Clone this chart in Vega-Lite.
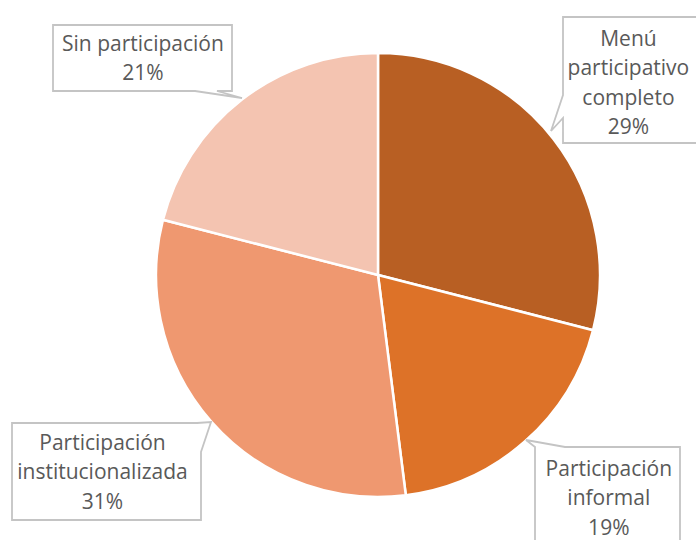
{
  "$schema": "https://vega.github.io/schema/vega-lite/v6.json",
  "autosize": "none",
  "width": 636,
  "height": 530,
  "padding": {"left": 60, "top": 10, "right": 0, "bottom": 0},
  "background": "white",
  "config": {"view": {"stroke": null}},
  "data": {
    "values": [
      {"orden": 1, "categoria": "Menú participativo completo", "valor": 29, "etiqueta": "Menú\nparticipativo\ncompleto\n29%"},
      {"orden": 2, "categoria": "Participación informal", "valor": 19, "etiqueta": "Participación\ninformal\n19%"},
      {"orden": 3, "categoria": "Participación institucionalizada", "valor": 31, "etiqueta": "Participación\ninstitucionalizada\n31%"},
      {"orden": 4, "categoria": "Sin participación", "valor": 21, "etiqueta": "Sin participación\n21%"}
    ]
  },
  "layer": [
    {
      "mark": {"type": "arc", "outerRadius": 222, "stroke": "white", "strokeWidth": 2.5},
      "encoding": {
        "theta": {"field": "valor", "type": "quantitative", "stack": true},
        "order": {"field": "orden", "type": "quantitative"},
        "color": {
          "field": "categoria",
          "type": "nominal",
          "scale": {
            "domain": ["Menú participativo completo", "Participación informal", "Participación institucionalizada", "Sin participación"],
            "range": ["#B85F23", "#DD7228", "#EF9870", "#F4C4B1"]
          },
          "legend": null
        }
      }
    },
    {
      "mark": {"type": "point", "size": 4, "filled": true, "fill": "white", "fillOpacity": 1, "opacity": 1, "stroke": "#C4C4C4", "strokeWidth": 1.8},
      "encoding": {
        "shape": {
          "field": "categoria",
          "type": "nominal",
          "scale": {
            "domain": ["Menú participativo completo", "Participación informal", "Participación institucionalizada", "Sin participación"],
            "range": [
              "M185,-258H325V-132H185V-157L173,-144L185,-180Z",
              "M157,287V172L148,165L187,172H302V287Z",
              "M-366,148H-181L-167,147L-177,177V245H-366Z",
              "M-325,-250H-146V-184H-161L-136,-177L-183,-184H-325Z"
            ]
          },
          "legend": null
        }
      }
    },
    {
      "mark": {"type": "text", "radius": 222, "dx": 75, "dy": -99, "font": "Open Sans", "fontSize": 21, "lineHeight": 29.5, "color": "#595959", "lineBreak": "\n", "align": "center", "baseline": "middle"},
      "encoding": {
        "theta": {"field": "valor", "type": "quantitative", "stack": true},
        "order": {"field": "orden", "type": "quantitative"},
        "text": {"condition": {"test": "datum.orden === 1", "field": "etiqueta"}, "value": ""}
      }
    },
    {
      "mark": {"type": "text", "radius": 222, "dx": 84, "dy": 28, "font": "Open Sans", "fontSize": 21, "lineHeight": 29.5, "color": "#595959", "lineBreak": "\n", "align": "center", "baseline": "middle"},
      "encoding": {
        "theta": {"field": "valor", "type": "quantitative", "stack": true},
        "order": {"field": "orden", "type": "quantitative"},
        "text": {"condition": {"test": "datum.orden === 2", "field": "etiqueta"}, "value": ""}
      }
    },
    {
      "mark": {"type": "text", "radius": 222, "dx": -109, "dy": 22, "font": "Open Sans", "fontSize": 21, "lineHeight": 29.5, "color": "#595959", "lineBreak": "\n", "align": "center", "baseline": "middle"},
      "encoding": {
        "theta": {"field": "valor", "type": "quantitative", "stack": true},
        "order": {"field": "orden", "type": "quantitative"},
        "text": {"condition": {"test": "datum.orden === 3", "field": "etiqueta"}, "value": ""}
      }
    },
    {
      "mark": {"type": "text", "radius": 222, "dx": -99, "dy": -55, "font": "Open Sans", "fontSize": 21, "lineHeight": 29.5, "color": "#595959", "lineBreak": "\n", "align": "center", "baseline": "middle"},
      "encoding": {
        "theta": {"field": "valor", "type": "quantitative", "stack": true},
        "order": {"field": "orden", "type": "quantitative"},
        "text": {"condition": {"test": "datum.orden === 4", "field": "etiqueta"}, "value": ""}
      }
    }
  ]
}
